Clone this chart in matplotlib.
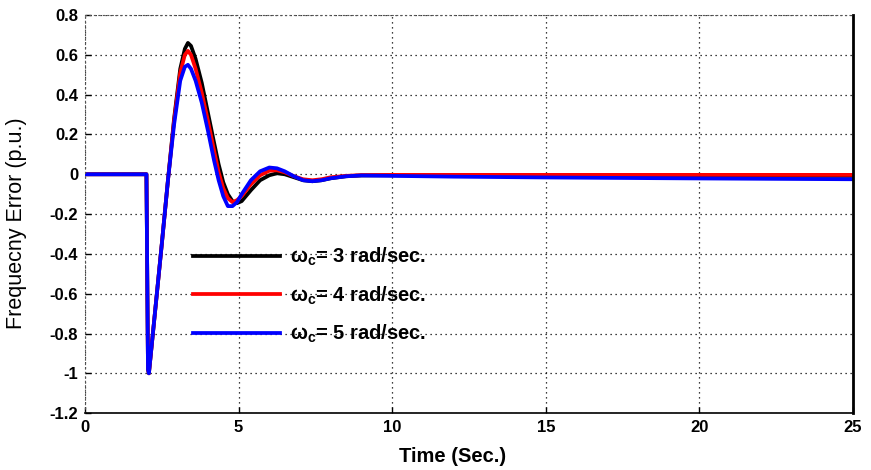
import matplotlib
matplotlib.use("Agg")
from matplotlib import pyplot as plt


# time base (s) shared by the three responses
time = [0.0, 2.0, 2.05, 2.08, 2.3, 2.5, 2.7, 2.9, 3.1, 3.25, 3.35, 3.45,
        3.6, 3.8, 4.0, 4.2, 4.35, 4.5, 4.65, 4.8, 4.95, 5.1, 5.4, 5.7,
        6.0, 6.25, 6.5, 6.8, 7.1, 7.4, 7.7, 8.0, 8.5, 9.0, 10.0, 12.0,
        15.0, 20.0, 25.0]

# frequency error (p.u.) for each cut-off frequency
err_wc3 = [0.0, 0.0, -0.98, -1.0, -0.66, -0.35, -0.03, 0.28, 0.53, 0.63,
           0.66, 0.645, 0.58, 0.46, 0.31, 0.16, 0.05, -0.04, -0.1, -0.135,
           -0.145, -0.135, -0.08, -0.03, -0.005, 0.005, 0.0, -0.015, -0.03,
           -0.035, -0.03, -0.02, -0.01, -0.006, -0.005, -0.006, -0.007,
           -0.008, -0.008]
err_wc4 = [0.0, 0.0, -0.98, -1.0, -0.66, -0.35, -0.03, 0.27, 0.51, 0.6,
           0.62, 0.6, 0.53, 0.41, 0.27, 0.12, 0.01, -0.07, -0.12, -0.14,
           -0.13, -0.11, -0.05, -0.005, 0.018, 0.02, 0.01, -0.01, -0.025,
           -0.03, -0.025, -0.015, -0.008, -0.004, -0.003, -0.003, -0.003,
           -0.003, -0.003]
err_wc5 = [0.0, 0.0, -0.98, -1.0, -0.66, -0.35, -0.03, 0.25, 0.47, 0.54,
           0.55, 0.53, 0.47, 0.36, 0.22, 0.07, -0.03, -0.11, -0.16, -0.16,
           -0.14, -0.1, -0.03, 0.015, 0.034, 0.03, 0.015, -0.01, -0.03,
           -0.035, -0.03, -0.02, -0.01, -0.006, -0.008, -0.012, -0.016,
           -0.021, -0.025]

labels = [r"$\omega_c$= 3 rad/sec.", r"$\omega_c$= 4 rad/sec.",
          r"$\omega_c$= 5 rad/sec."]
colors = ["black", "red", "blue"]

xticks = [0, 5, 10, 15, 20, 25]
yticks = [-1.2, -1, -0.8, -0.6, -0.4, -0.2, 0, 0.2, 0.4, 0.6, 0.8]
ytick_labels = ["-1.2", "-1", "-0.8", "-0.6", "-0.4", "-0.2", "0",
                "0.2", "0.4", "0.6", "0.8"]

plt.rcParams["font.family"] = ["Liberation Sans", "DejaVu Sans"]
plt.rcParams["mathtext.fontset"] = "custom"
plt.rcParams["mathtext.rm"] = "Liberation Sans:bold"
plt.rcParams["mathtext.it"] = "Liberation Sans:bold"
plt.rcParams["mathtext.bf"] = "Liberation Sans:bold"

fig = plt.figure(figsize=(8.71, 4.70), dpi=100)
ax = fig.add_axes([0.0976, 0.121, 0.8817, 0.847])

for vals, col, lab in zip([err_wc3, err_wc4, err_wc5], colors, labels):
    ax.plot(time, vals, color=col, lw=2.7, label=lab, solid_joinstyle="round")

ax.set_xlim(0, 25)
ax.set_ylim(-1.2, 0.8)
ax.set_xticks(xticks)
ax.set_yticks(yticks)
ax.set_yticklabels(ytick_labels)
ax.grid(True, color="black", linestyle=(0, (1, 3)), linewidth=0.9)
ax.tick_params(direction="in", length=4, width=1, labelsize=12, pad=5)
for lbl in ax.get_xticklabels() + ax.get_yticklabels():
    lbl.set_fontweight("bold")

ax.spines["bottom"].set_linewidth(1.2)
ax.spines["right"].set_linewidth(2.0)
ax.spines["left"].set_linestyle((0, (1, 3)))
ax.spines["left"].set_color("#555555")
ax.spines["top"].set_linestyle((0, (1, 3)))
ax.spines["top"].set_color("#555555")

ax.set_xlabel("Time (Sec.)", fontsize=14.5, fontweight="bold")
ax.xaxis.set_label_coords(0.478, -0.085)
ax.set_ylabel("Frequecny Error (p.u.)", fontsize=15.5)
ax.yaxis.set_label_coords(-0.076, 0.477)

ax.legend(loc="upper left", bbox_to_anchor=(0.1406, 0.42), frameon=False,
          borderpad=0, borderaxespad=0, handlelength=4.33,
          handletextpad=0.5, labelspacing=0.81,
          prop={"size": 14.5, "weight": "bold"})

fig.savefig("out.png", dpi=100)
